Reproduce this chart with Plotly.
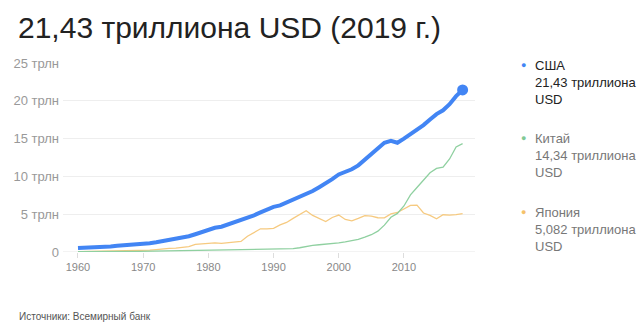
import plotly.graph_objects as go

years = list(range(1960, 2020))
usa = [0.543, 0.563, 0.605, 0.638, 0.686, 0.744, 0.815, 0.862, 0.942, 1.020,
       1.073, 1.165, 1.280, 1.425, 1.545, 1.684, 1.873, 2.082, 2.352, 2.627,
       2.857, 3.207, 3.343, 3.634, 4.037, 4.339, 4.580, 4.855, 5.236, 5.642,
       5.963, 6.158, 6.520, 6.859, 7.287, 7.640, 8.073, 8.578, 9.063, 9.631,
       10.252, 10.582, 10.936, 11.458, 12.214, 13.037, 13.815, 14.452, 14.713, 14.449,
       14.992, 15.543, 16.197, 16.785, 17.527, 18.238, 18.745, 19.543, 20.612, 21.433]
china = [0.060, 0.050, 0.047, 0.051, 0.059, 0.070, 0.077, 0.073, 0.071, 0.080,
         0.093, 0.100, 0.114, 0.139, 0.144, 0.163, 0.154, 0.175, 0.150, 0.178,
         0.191, 0.196, 0.210, 0.234, 0.260, 0.309, 0.301, 0.273, 0.312, 0.348,
         0.361, 0.383, 0.427, 0.445, 0.564, 0.735, 0.864, 0.962, 1.029, 1.094,
         1.211, 1.339, 1.471, 1.660, 1.955, 2.286, 2.752, 3.550, 4.594, 5.102,
         6.087, 7.552, 8.532, 9.570, 10.476, 11.062, 11.233, 12.310, 13.895, 14.343]
japan = [0.044, 0.054, 0.061, 0.070, 0.082, 0.091, 0.106, 0.124, 0.147, 0.172,
         0.213, 0.241, 0.318, 0.432, 0.480, 0.521, 0.586, 0.722, 1.013, 1.055,
         1.105, 1.218, 1.135, 1.243, 1.318, 1.398, 2.079, 2.532, 3.072, 3.054,
         3.133, 3.584, 3.909, 4.454, 4.907, 5.449, 4.834, 4.415, 4.033, 4.563,
         4.888, 4.304, 4.115, 4.446, 4.815, 4.755, 4.530, 4.515, 5.038, 5.231,
         5.700, 6.157, 6.203, 5.156, 4.850, 4.389, 4.923, 4.867, 4.955, 5.082]

x_ticks = [1960, 1970, 1980, 1990, 2000, 2010]
y_ticks = [0, 5, 10, 15, 20, 25]
y_labels = ["0", "5 трлн", "10 трлн", "15 трлн", "20 трлн", "25 трлн"]

legend_names = ["США", "Китай", "Япония"]
legend_values = ["21,43 триллиона<br>USD", "14,34 триллиона<br>USD", "5,082 триллиона<br>USD"]
title_text = "21,43 триллиона USD (2019 г.)"
source_text = "Источники: Всемирный банк"

BLUE = "#4285f4"
GREEN = "#8fd0a0"
ORANGE = "#f6ca80"
DOT_GREEN = "#81c995"
DOT_ORANGE = "#f5c26b"

fig = go.Figure()
fig.add_trace(go.Scatter(x=years, y=japan, mode="lines",
                         line=dict(color=ORANGE, width=1.3), hoverinfo="skip"))
fig.add_trace(go.Scatter(x=years, y=china, mode="lines",
                         line=dict(color=GREEN, width=1.3), hoverinfo="skip"))
fig.add_trace(go.Scatter(x=years, y=usa, mode="lines",
                         line=dict(color=BLUE, width=4), hoverinfo="skip"))
fig.add_trace(go.Scatter(x=[years[-1]], y=[usa[-1]], mode="markers",
                         marker=dict(color=BLUE, size=11), cliponaxis=False,
                         hoverinfo="skip"))

L, R, T, B = 63, 475, 63, 252
W, H = 642, 334


def px(xp):
    return (xp - L) / (R - L)


def py(yp):
    return (B - yp) / (B - T)


FONT = "Arial, Liberation Sans, sans-serif"
ann = []
ann.append(dict(text=title_text, xref="paper", yref="paper", x=px(16), y=py(27),
                xanchor="left", yanchor="middle", showarrow=False,
                font=dict(family=FONT, size=30, color="#222222")))
ann.append(dict(text=source_text, xref="paper", yref="paper", x=px(17), y=py(316),
                xanchor="left", yanchor="middle", showarrow=False,
                font=dict(family=FONT, size=10, color="#555555")))

leg_y = [65, 138, 212]
dot_colors = [BLUE, DOT_GREEN, DOT_ORANGE]
text_colors = ["#222222", "#777777", "#777777"]
for i in range(3):
    ann.append(dict(text="●", xref="paper", yref="paper", x=px(523), y=py(leg_y[i]),
                    xanchor="center", yanchor="middle", showarrow=False,
                    font=dict(family=FONT, size=9, color=dot_colors[i])))
    ann.append(dict(text=legend_names[i] + "<br>" + legend_values[i],
                    xref="paper", yref="paper", x=px(533), y=py(leg_y[i] - 9),
                    xanchor="left", yanchor="top", align="left", showarrow=False,
                    font=dict(family=FONT, size=13, color=text_colors[i])))

fig.update_layout(
    width=W, height=H,
    margin=dict(l=L, r=W - R, t=T, b=H - B),
    paper_bgcolor="white", plot_bgcolor="white",
    showlegend=False,
    annotations=ann,
    xaxis=dict(range=[1957.7, 2020.9], tickvals=x_ticks, showgrid=False,
               zeroline=False, showline=False, ticks="outside", ticklen=5,
               tickcolor="#dddddd", tickwidth=1,
               tickfont=dict(family=FONT, size=11, color="#888888")),
    yaxis=dict(range=[0, 25], tickvals=y_ticks, ticktext=y_labels,
               showgrid=True, gridcolor="#eeeeee", gridwidth=1,
               zeroline=False, showline=False, ticks="",
               ticklabelstandoff=3,
               tickfont=dict(family=FONT, size=13, color="#999999")),
)
fig.add_shape(type="line", xref="paper", yref="y", x0=0, x1=1, y0=0, y1=0,
              line=dict(color="#e6e6e6", width=1), layer="below")

fig.write_html("out.html")
